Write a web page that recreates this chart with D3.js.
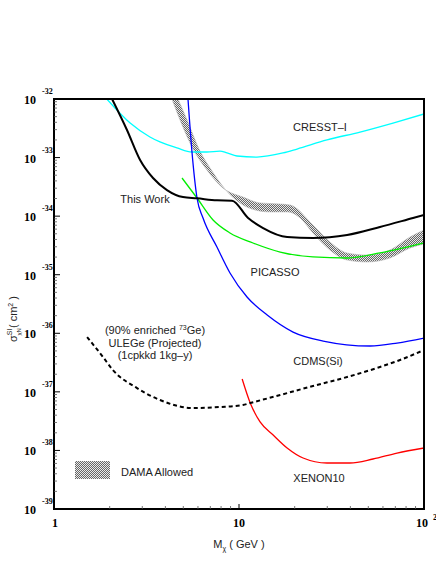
<!DOCTYPE html>
<html>
<head>
<meta charset="utf-8">
<script src="https://cdn.jsdelivr.net/npm/d3@7"></script>
<style>
body { margin: 0; background: #fff; }
text { font-family: "Liberation Sans", Arial, sans-serif; }
.tick-lab { font-family: "Liberation Serif", "Times New Roman", serif; font-weight: bold; }
</style>
</head>
<body>
<div id="chart"></div>
<script>
// Data: WIMP mass (GeV) vs spin-independent cross section (cm^2)
var cresst = [[1.93,1e-32],[2.58,3.89e-33],[3.30,2.25e-33],[3.74,1.85e-33],[4.62,1.46e-33],[5.57,1.245e-33],
    [6.71,1.245e-33],[7.89,1.29e-33],[8.61,1.20e-33],[9.75,1.064e-33],[12.5,1.02e-33],[17.3,1.20e-33],
    [20.6,1.40e-33],[29.9,2.0e-33],[45.1,2.73e-33],[68.0,3.89e-33],[100,5.55e-33]];

var thisWork = [[2.06,1e-32],[2.48,2.96e-33],[2.92,9.09e-34],[3.43,4.48e-34],[4.08,2.79e-34],
    [4.98,2.12e-34],[5.93,2.02e-34],[7.60,1.86e-34],[9.17,1.84e-34],[11.2,9.30e-35],[13.5,6.27e-35],
    [18.2,4.40e-35],[25.1,4.23e-35],[38.4,4.76e-35],[57.8,6.53e-35],[87.2,9.30e-35],[100,1.046e-34]];

var picasso = [[4.92,4.48e-34],[5.93,2.04e-34],[7.24,8.59e-35],[8.94,5.16e-35],[11.9,3.48e-35],[16.7,2.44e-35],
    [25.1,2.01e-35],[38.4,1.93e-35],[57.8,2.35e-35],[81.0,2.97e-35],[100,3.48e-35]];

var cdmsSi = [[5.30,1e-32],[5.57,1.245e-33],[5.93,2.04e-34],[6.39,9.30e-35],[7.60,2.97e-35],[8.94,1.07e-35],
    [11.05,4.16e-36],[14.2,2.05e-36],[19.6,1.05e-36],[28.5,7.38e-37],[51.1,6.07e-37],[71.5,6.82e-37],[100,8.30e-37]];

var xenon10 = [[10.4,1.66e-37],[11.5,6.45e-38],[13.0,3.06e-38],[15.3,1.83e-38],[18.2,1.10e-38],[22.2,7.42e-39],
    [29.9,6.10e-39],[39.8,6.10e-39],[53.0,7.14e-39],[71.5,9.03e-39],[100,1.10e-38]];

var ulege = [[1.51,8.64e-37],[1.84,3.94e-37],[2.08,2.36e-37],[2.81,1.16e-37],[3.74,7.26e-38],[5.64,5.30e-38],
    [7.89,5.51e-38],[10.5,5.97e-38],[11.5,6.45e-38],[16.7,8.83e-38],[25.1,1.26e-37],[38.4,1.79e-37],
    [57.8,2.66e-37],[74.2,3.50e-37],[100,5.18e-37]];

// DAMA allowed band: upper and lower edges
var damaUpper = [[4.34,1e-32],[4.80,4.38e-33],[5.57,1.52e-33],[6.71,6.13e-34],[8.19,3.02e-34],[10.5,2.12e-34],
    [13.0,1.68e-34],[16.7,1.61e-34],[18.9,1.55e-34],[25.1,7.06e-35],[31.0,3.62e-35],[38.4,2.35e-35],
    [49.2,2.17e-35],[65.5,2.64e-35],[84.0,4.40e-35],[100,5.80e-35]];
var damaLower = [[4.68,1e-32],[5.24,4.38e-33],[6.08,1.40e-33],[7.33,5.24e-34],[7.99,3.54e-34],[9.63,1.89e-34],
    [11.76,1.32e-34],[14.71,1.18e-34],[18.4,1.18e-34],[21.4,9.30e-35],[25.1,5.16e-35],[31.0,2.64e-35],
    [38.4,1.78e-35],[49.2,1.65e-35],[65.5,1.93e-35],[84.0,2.86e-35],[100,3.34e-35]];

var xMajor = [1, 10, 100];
var yExps = [-32, -33, -34, -35, -36, -37, -38, -39];

var margin = {top: 99, right: 12, bottom: 55, left: 54},
    width = 436 - margin.left - margin.right,
    height = 564 - margin.top - margin.bottom;

var x = d3.scaleLog().domain([1, 100]).range([0, width]);
var y = d3.scaleLog().domain([1e-39, 1e-32]).range([height, 0]);

var svg = d3.select("#chart").append("svg")
    .attr("width", 436)
    .attr("height", 564);

var defs = svg.append("defs");
defs.append("clipPath").attr("id", "clip")
    .append("rect").attr("width", width).attr("height", height);

var pat = defs.append("pattern").attr("id", "checker")
    .attr("patternUnits", "userSpaceOnUse")
    .attr("width", 2).attr("height", 2);
pat.append("rect").attr("width", 2).attr("height", 2).attr("fill", "#e8e8e8");
pat.append("rect").attr("width", 1).attr("height", 1).attr("fill", "#666");
pat.append("rect").attr("x", 1).attr("y", 1).attr("width", 1).attr("height", 1).attr("fill", "#666");

var g = svg.append("g")
    .attr("transform", "translate(" + margin.left + "," + margin.top + ")");

var line = d3.line()
    .x(d => x(d[0]))
    .y(d => y(d[1]))
    .curve(d3.curveMonotoneX);

var plot = g.append("g").attr("clip-path", "url(#clip)");

// DAMA band
var upperPath = line(damaUpper);
var lowerPath = line(damaLower.slice().reverse()).replace(/^M/, "L");
plot.append("path")
    .attr("d", upperPath + lowerPath + "Z")
    .attr("fill", "url(#checker)")
    .attr("stroke", "#bbb")
    .attr("stroke-width", 0.6);

function curve(data, color, w, dash) {
    var p = plot.append("path")
        .attr("d", line(data))
        .attr("fill", "none")
        .attr("stroke", color)
        .attr("stroke-width", w);
    if (dash) p.attr("stroke-dasharray", dash);
}

curve(cresst, "#00ffff", 1.3);
curve(picasso, "#00ee00", 1.3);
curve(cdmsSi, "#0000ff", 1.3);
curve(xenon10, "#ff0000", 1.3);
curve(thisWork, "#000", 2);
curve(ulege, "#000", 2, "4,3");

// frame
g.append("rect")
    .attr("width", width).attr("height", height)
    .attr("fill", "none").attr("stroke", "#000").attr("stroke-width", 2);

// y ticks (inside, left)
yExps.forEach(function(e) {
    var v = Math.pow(10, e);
    g.append("line").attr("x1", 0).attr("x2", 6)
        .attr("y1", y(v)).attr("y2", y(v)).attr("stroke", "#000");
    if (e < -32) {
        for (var k = 2; k <= 9; k++) {
            var yy = y(k * v);
            g.append("line").attr("x1", 0).attr("x2", 3)
                .attr("y1", yy).attr("y2", yy).attr("stroke", "#555").attr("stroke-width", 0.8);
        }
    }
    g.append("text").attr("class", "tick-lab")
        .attr("x", -18).attr("y", y(v) + 5)
        .attr("text-anchor", "end")
        .style("font-size", "12px")
        .text("10");
    g.append("text").attr("class", "tick-lab")
        .attr("x", -12).attr("y", y(v) - 5)
        .style("font-size", "8px")
        .text(e);
});

// x ticks (inside, bottom)
xMajor.forEach(function(v, i) {
    g.append("line").attr("x1", x(v)).attr("x2", x(v))
        .attr("y1", height).attr("y2", height - 5).attr("stroke", "#000");
    if (i < xMajor.length - 1) {
        for (var k = 2; k <= 9; k++) {
            var xx = x(k * v);
            g.append("line").attr("x1", xx).attr("x2", xx)
                .attr("y1", height).attr("y2", height - 3).attr("stroke", "#555").attr("stroke-width", 0.8);
        }
    }
});

g.append("text").attr("class", "tick-lab")
    .attr("x", x(1) + 1).attr("y", height + 18)
    .attr("text-anchor", "middle").style("font-size", "12px").text("1");
g.append("text").attr("class", "tick-lab")
    .attr("x", x(10)).attr("y", height + 18)
    .attr("text-anchor", "middle").style("font-size", "12px").text("10");
g.append("text").attr("class", "tick-lab")
    .attr("x", x(100) - 2).attr("y", height + 18)
    .attr("text-anchor", "middle").style("font-size", "12px").text("10");
g.append("text").attr("class", "tick-lab")
    .attr("x", x(100) + 9).attr("y", height + 11)
    .style("font-size", "8px").text("2");

// axis titles
var xt = g.append("text")
    .attr("x", 185).attr("y", height + 39)
    .attr("text-anchor", "middle")
    .style("font-size", "11px").attr("fill", "#222");
xt.append("tspan").text("M");
xt.append("tspan").attr("dy", 3).style("font-size", "7px").text("χ");
xt.append("tspan").attr("dy", -3).text(" ( GeV )");

var yt = svg.append("g").attr("transform", "translate(17,342) rotate(-90)")
    .append("text").attr("x", 0).attr("y", 0)
    .style("font-size", "11px").attr("fill", "#222");
yt.append("tspan").text("σ");
yt.append("tspan").attr("dy", -5).style("font-size", "7px").text("SI");
yt.append("tspan").attr("dx", -7).attr("dy", 9).style("font-size", "6px").text("χN");
yt.append("tspan").attr("dy", -4).text("( cm");
yt.append("tspan").attr("dy", -4).style("font-size", "7px").text("2");
yt.append("tspan").attr("dy", 4).text(" )");

// curve labels (plot coordinates)
function label(txt, px, py, anchor) {
    return g.append("text")
        .attr("x", px).attr("y", py)
        .attr("text-anchor", anchor || "middle")
        .style("font-size", "11px").attr("fill", "#222")
        .text(txt);
}
label("CRESST–I", 266, 32);
label("This Work", 91, 104);
label("PICASSO", 221, 177);
label("CDMS(Si)", 264, 266);
label("XENON10", 265, 383);
label("DAMA Allowed", 67, 377, "start");

var l1 = g.append("text").attr("x", 101).attr("y", 235)
    .attr("text-anchor", "middle").style("font-size", "11px").attr("fill", "#222");
l1.append("tspan").text("(90% enriched ");
l1.append("tspan").attr("dy", -4).style("font-size", "7px").text("73");
l1.append("tspan").attr("dy", 4).text("Ge)");
label("ULEGe (Projected)", 101, 248);
label("(1cpkkd 1kg–y)", 101, 260);

// DAMA legend box
g.append("rect")
    .attr("x", 21).attr("y", 362)
    .attr("width", 35).attr("height", 18)
    .attr("fill", "url(#checker)");
</script>
</body>
</html>
